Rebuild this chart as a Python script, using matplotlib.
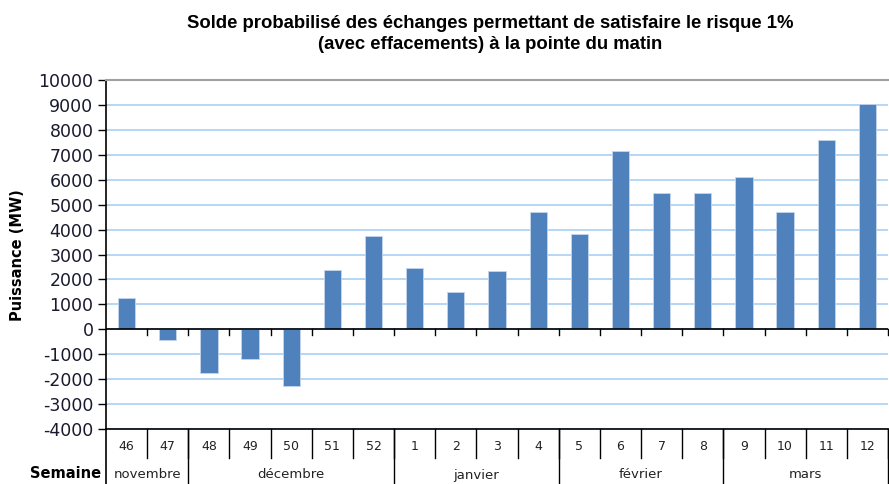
import matplotlib.pyplot as plt
import numpy as np
from matplotlib.transforms import blended_transform_factory

weeks = ['46', '47', '48', '49', '50', '51', '52', '1', '2', '3', '4',
         '5', '6', '7', '8', '9', '10', '11', '12']
solde = [1270, -440, -1770, -1190, -2290, 2390, 3760, 2440, 1490, 2330, 4710,
         3830, 7160, 5470, 5470, 6100, 4710, 7590, 9020]
months = ['novembre', 'décembre', 'janvier', 'février', 'mars']
month_len = [2, 5, 4, 4, 4]
yticks = list(range(-4000, 10001, 1000))

fig = plt.figure(figsize=(8.89, 4.84), dpi=100)
ax = fig.add_axes([106 / 889, 55 / 484, 782 / 889, 349 / 484])

x = np.arange(len(weeks))
ax.bar(x, solde, width=0.42, color='#4F81BD', edgecolor='#C5D6EC', linewidth=0.6, zorder=3)

ax.set_xlim(-0.5, len(weeks) - 0.5)
ax.set_ylim(-4000, 10000)
ax.set_yticks(yticks)
ax.set_yticklabels([str(v) for v in yticks], fontsize=12.5, color='#1a1a2e')
ax.yaxis.grid(True, color='#A9CFF5', linewidth=1.2, zorder=0)
ax.tick_params(axis='y', length=6, width=1, color='black', pad=3)
ax.set_xticks([])

for s in ['right', 'bottom']:
    ax.spines[s].set_visible(False)
ax.spines['top'].set_color('#A0A0A0')
ax.spines['top'].set_linewidth(1.5)
ax.spines['left'].set_color('black')
ax.spines['left'].set_linewidth(1.2)

# zero line with category ticks
ax.axhline(0, color='black', linewidth=1.2, zorder=4)
trans = blended_transform_factory(ax.transData, ax.transAxes)
for b in np.arange(-0.5, len(weeks), 1.0)[1:]:
    ax.plot([b, b], [0, -240], color='black', linewidth=1, zorder=4, clip_on=False)

# category table below the plot
ax.plot([-0.5, len(weeks) - 0.5], [0, 0], transform=trans, color='black', linewidth=1.2, clip_on=False)
ax.plot([-0.5, -0.5], [0, -55 / 349], transform=trans, color='black', linewidth=1.2, clip_on=False)
for i, w in enumerate(weeks):
    ax.text(i, -17 / 349, w, transform=trans, ha='center', va='center', fontsize=9, color='#222222')
    ax.plot([i + 0.5, i + 0.5], [0, -29 / 349], transform=trans, color='black', linewidth=1, clip_on=False)

start = 0
for m, n in zip(months, month_len):
    end = start + n
    ax.text((start + end - 1) / 2, -46 / 349, m, transform=trans, ha='center', va='center',
            fontsize=9.5, color='#222222')
    ax.plot([end - 0.5, end - 0.5], [0, -55 / 349], transform=trans, color='black', linewidth=1, clip_on=False)
    start = end

fig.text(66 / 889, 1 - 474 / 484, 'Semaine', ha='center', va='center', fontsize=10.5, fontweight='bold')
fig.text(18 / 889, 1 - 255 / 484, 'Puissance (MW)', ha='center', va='center', rotation=90,
         fontsize=10.5, fontweight='bold')
fig.text(490 / 889, 1 - 34 / 484,
         'Solde probabilisé des échanges permettant de satisfaire le risque 1%\n(avec effacements) à la pointe du matin',
         ha='center', va='center', fontsize=13.3, fontweight='bold', family='Liberation Sans',
         linespacing=1.25)

fig.savefig('out.png', dpi=100)
